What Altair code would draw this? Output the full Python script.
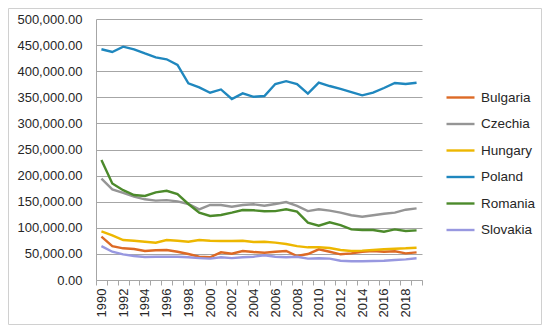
import altair as alt
import pandas as pd

years = list(range(1990, 2020))
countries = ["Bulgaria", "Czechia", "Hungary", "Poland", "Romania", "Slovakia"]
colors = ["#DD6A26", "#959595", "#EDB700", "#1F87BE", "#4C8A2B", "#9898E0"]

bulgaria = [83000, 65000, 60700, 59400, 55600, 56900, 57500, 54200, 49800, 44600,
            43500, 53000, 50400, 55600, 53600, 52300, 54200, 55600, 46000, 49800,
            58800, 54200, 49200, 51100, 54200, 55600, 54200, 55000, 51100, 53000]
czechia = [194000, 173700, 167000, 159600, 154600, 152000, 153000, 150700, 145600, 135400,
           143700, 143700, 140400, 143700, 145000, 142300, 145600, 149400, 141800, 132000,
           135400, 132800, 129000, 124000, 121300, 124000, 127000, 129000, 134700, 137300]
hungary = [93200, 85600, 76600, 75300, 73400, 71500, 76600, 75300, 73400, 76600,
           75300, 74700, 74700, 75300, 72800, 73400, 71500, 69000, 65000, 62600,
           62600, 61300, 57500, 55600, 56200, 57500, 58800, 60000, 60700, 61900]
poland = [442000, 436800, 447000, 442000, 434000, 426600, 422800, 412000, 376800, 369000,
          358800, 365000, 346700, 357600, 351000, 352500, 375500, 381000, 375500, 357000,
          378000, 371600, 366000, 360000, 353800, 358800, 367800, 377400, 375500, 378000]
romania = [229900, 185000, 172000, 162800, 161000, 168000, 171000, 164700, 145600, 129000,
           122600, 124500, 129000, 134000, 133500, 131600, 132000, 135400, 130900, 109800,
           104000, 110500, 105000, 97000, 95800, 95800, 92500, 97000, 94000, 95000]
slovakia = [65000, 54200, 49200, 46000, 44000, 44600, 44600, 44600, 43500, 42000,
            40900, 43500, 42000, 43500, 44600, 47300, 44600, 43500, 44600, 40900,
            41600, 40900, 37000, 35800, 35800, 36400, 37000, 38300, 39600, 41600]
y_ticks = [0, 50000, 100000, 150000, 200000, 250000, 300000, 350000, 400000, 450000, 500000]

series = [bulgaria, czechia, hungary, poland, romania, slovakia]
rows = []
for name, vals in zip(countries, series):
    for yr, v in zip(years, vals):
        rows.append({"Year": yr, "Country": name, "Value": v})
df = pd.DataFrame(rows)

FONT = "Liberation Sans"
W, H = 326, 261
PL, PT, PR, PB = 88, 11, 120, 45

lines = alt.Chart(df).mark_line(strokeWidth=2.4).encode(
    x=alt.X("Year:O", bandPosition=0.5,
            scale=alt.Scale(type="band", paddingInner=0, paddingOuter=0),
            axis=alt.Axis(title=None, labelAngle=-90, tickBand="extent", tickSize=5,
                          tickColor="#A6A6A6", domainColor="#A6A6A6", grid=False,
                          labelExpr="datum.value % 2 == 0 ? datum.label : ''",
                          labelFontSize=13, labelColor="#262626", labelPadding=3)),
    y=alt.Y("Value:Q", scale=alt.Scale(domain=[0, 500000], nice=False),
            axis=alt.Axis(title=None, values=y_ticks, format=",.2f", ticks=False,
                          domainColor="#A6A6A6", gridColor="#A6A6A6", grid=True,
                          labelFontSize=13, labelColor="#262626", labelPadding=14)),
    color=alt.Color("Country:N", sort=countries,
                    scale=alt.Scale(domain=countries, range=colors),
                    legend=alt.Legend(title=None, orient="none", legendX=349, legendY=63,
                                      symbolType="stroke", symbolSize=784, symbolStrokeWidth=2.4,
                                      labelFontSize=13.5, labelColor="#262626", labelOffset=5,
                                      rowPadding=4.5)),
    order=alt.Order("Year:O"),
)

border = alt.Chart(alt.Data(values=[{"a": 1}])).mark_rect(
    fillOpacity=0, stroke="#D0D0D0", strokeWidth=1
).encode(
    x=alt.value(-PL + 0.5), x2=alt.value(W + PR - 0.5),
    y=alt.value(-PT + 0.5), y2=alt.value(H + PB - 0.5),
)

chart = alt.layer(border, lines).properties(
    width=W, height=H,
    autosize=alt.AutoSizeParams(type="none"),
    padding={"left": PL, "top": PT, "right": PR, "bottom": PB},
).configure(font=FONT).configure_view(stroke=None)

chart.save("out.html", embed_options={"renderer": "svg", "actions": False})
